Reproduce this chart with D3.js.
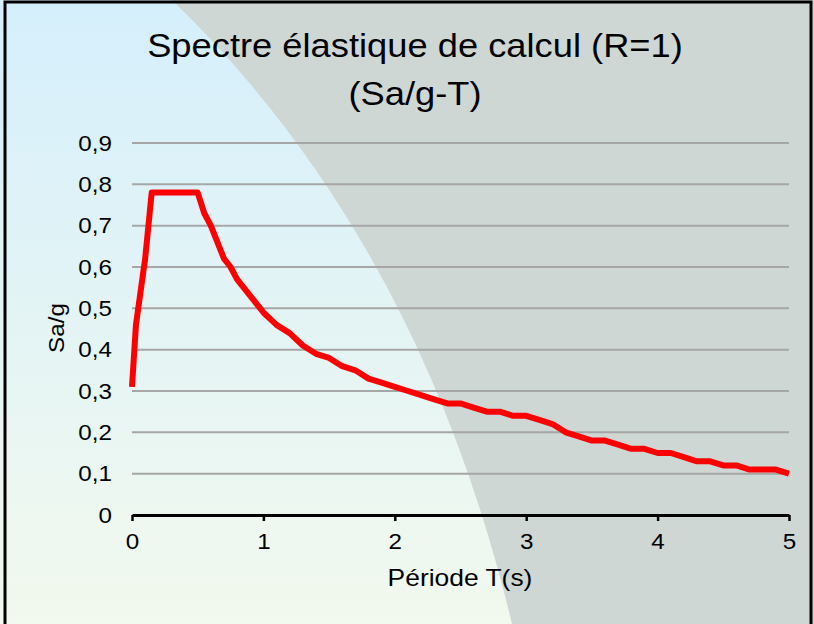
<!DOCTYPE html>
<html>
<head>
<meta charset="utf-8">
<script src="https://cdn.jsdelivr.net/npm/d3@7"></script>
<style>
  body { margin: 0; background: #fff; }
  svg { display: block; font-family: "Liberation Sans", Arial, sans-serif; }
</style>
</head>
<body>
<div id="chart"></div>
<script>
// période T (s) et Sa/g
const periods = [0, 0.03, 0.1, 0.15, 0.5, 0.55, 0.6, 0.65, 0.7, 0.75, 0.8, 0.85, 0.9, 0.95, 1.0,
  1.1, 1.2, 1.3, 1.4, 1.5, 1.6, 1.7, 1.8, 1.9, 2.0, 2.1, 2.2, 2.3, 2.4, 2.5, 2.6, 2.7, 2.8, 2.9, 3.0,
  3.1, 3.2, 3.3, 3.4, 3.5, 3.6, 3.7, 3.8, 3.9, 4.0, 4.1, 4.2, 4.3, 4.4, 4.5, 4.6, 4.7, 4.8, 4.9, 5.0];
const saG = [0.31, 0.46, 0.62, 0.78, 0.78, 0.73, 0.70, 0.66, 0.62, 0.60, 0.57, 0.55, 0.53, 0.51, 0.49,
  0.46, 0.44, 0.41, 0.39, 0.38, 0.36, 0.35, 0.33, 0.32, 0.31, 0.30, 0.29, 0.28, 0.27, 0.27, 0.26, 0.25, 0.25, 0.24, 0.24,
  0.23, 0.22, 0.20, 0.19, 0.18, 0.18, 0.17, 0.16, 0.16, 0.15, 0.15, 0.14, 0.13, 0.13, 0.12, 0.12, 0.11, 0.11, 0.11, 0.10];
const xTicks = [0, 1, 2, 3, 4, 5];
const yTicks = [0, 0.1, 0.2, 0.3, 0.4, 0.5, 0.6, 0.7, 0.8, 0.9];
const titleLines = ['Spectre élastique de calcul (R=1)', '(Sa/g-T)'];

const width = 814, height = 624;
const svg = d3.select('#chart').append('svg')
  .attr('width', width)
  .attr('height', height);

// fond : dégradé bleu -> vert pâle + forme grise
const defs = svg.append('defs');
const grad = defs.append('linearGradient')
  .attr('id', 'bg').attr('x1', 0).attr('y1', 0).attr('x2', 0).attr('y2', 1);
grad.append('stop').attr('offset', '0%').attr('stop-color', '#d5effc');
grad.append('stop').attr('offset', '100%').attr('stop-color', '#f2f9ee');

svg.append('rect').attr('x', 0).attr('y', 0).attr('width', width).attr('height', height)
  .attr('fill', 'url(#bg)');
svg.append('path')
  .attr('d', 'M172,0 Q420,240 512,624 L814,624 L814,0 Z')
  .attr('fill', '#cfd7d5');

svg.append('rect')
  .attr('x', 5).attr('y', 2).attr('width', 806).attr('height', 660)
  .attr('fill', 'none').attr('stroke', '#000').attr('stroke-width', 3);

const x = d3.scaleLinear().domain([0, 5]).range([132, 789]);
const y = d3.scaleLinear().domain([0, 0.9]).range([515, 143]);

// stretch text a little horizontally, like the original
function stretch(sel, k) {
  sel.each(function () {
    const w = this.getComputedTextLength();
    d3.select(this).attr('textLength', w * k).attr('lengthAdjust', 'spacingAndGlyphs');
  });
}

// grid
svg.append('g').selectAll('line')
  .data(yTicks.filter(d => d > 0))
  .join('line')
  .attr('x1', x(0)).attr('x2', x(5))
  .attr('y1', d => y(d)).attr('y2', d => y(d))
  .attr('stroke', '#a6a6a6').attr('stroke-width', 2);

// y axis labels
const yAxis = d3.axisLeft(y).tickValues(yTicks).tickSize(0).tickPadding(20)
  .tickFormat(d => d === 0 ? '0' : d3.format('.1f')(d).replace('.', ','));
const yG = svg.append('g').attr('transform', `translate(${x(0)},0)`).call(yAxis);
yG.select('.domain').remove();
yG.selectAll('text').attr('font-size', 22).attr('fill', '#000')
  .attr('font-family', '"Liberation Sans", Arial, sans-serif')
  .call(stretch, 1.1);

// x axis
const xAxis = d3.axisBottom(x).tickValues(xTicks).tickSize(6).tickPadding(12)
  .tickSizeOuter(0).tickFormat(d3.format('d'));
const xG = svg.append('g').attr('transform', `translate(0,${y(0)})`).call(xAxis);
xG.select('.domain').attr('stroke', '#000').attr('stroke-width', 3);
xG.selectAll('.tick line').attr('stroke', '#000').attr('stroke-width', 2.5);
xG.selectAll('text').attr('font-size', 22).attr('fill', '#000')
  .attr('font-family', '"Liberation Sans", Arial, sans-serif')
  .call(stretch, 1.1);

// spectre
const line = d3.line().x((d, i) => x(periods[i])).y(d => y(d));
svg.append('path')
  .datum(saG)
  .attr('d', line)
  .attr('fill', 'none')
  .attr('stroke', '#ff0000')
  .attr('stroke-width', 6)
  .attr('stroke-linejoin', 'round');

// titles
svg.append('g').selectAll('text')
  .data(titleLines)
  .join('text')
  .attr('x', 415)
  .attr('y', (d, i) => 57 + i * 48)
  .attr('text-anchor', 'middle')
  .attr('font-size', 33)
  .attr('fill', '#000')
  .text(d => d)
  .call(stretch, 1.1);

svg.append('text')
  .attr('x', 460).attr('y', 586)
  .attr('text-anchor', 'middle')
  .attr('font-size', 24)
  .attr('fill', '#000')
  .text('Période T(s)')
  .call(stretch, 1.1);

svg.append('text')
  .attr('transform', 'translate(64,328) rotate(-90)')
  .attr('text-anchor', 'middle')
  .attr('font-size', 22)
  .attr('fill', '#000')
  .text('Sa/g')
  .call(stretch, 1.1);
</script>
</body>
</html>
